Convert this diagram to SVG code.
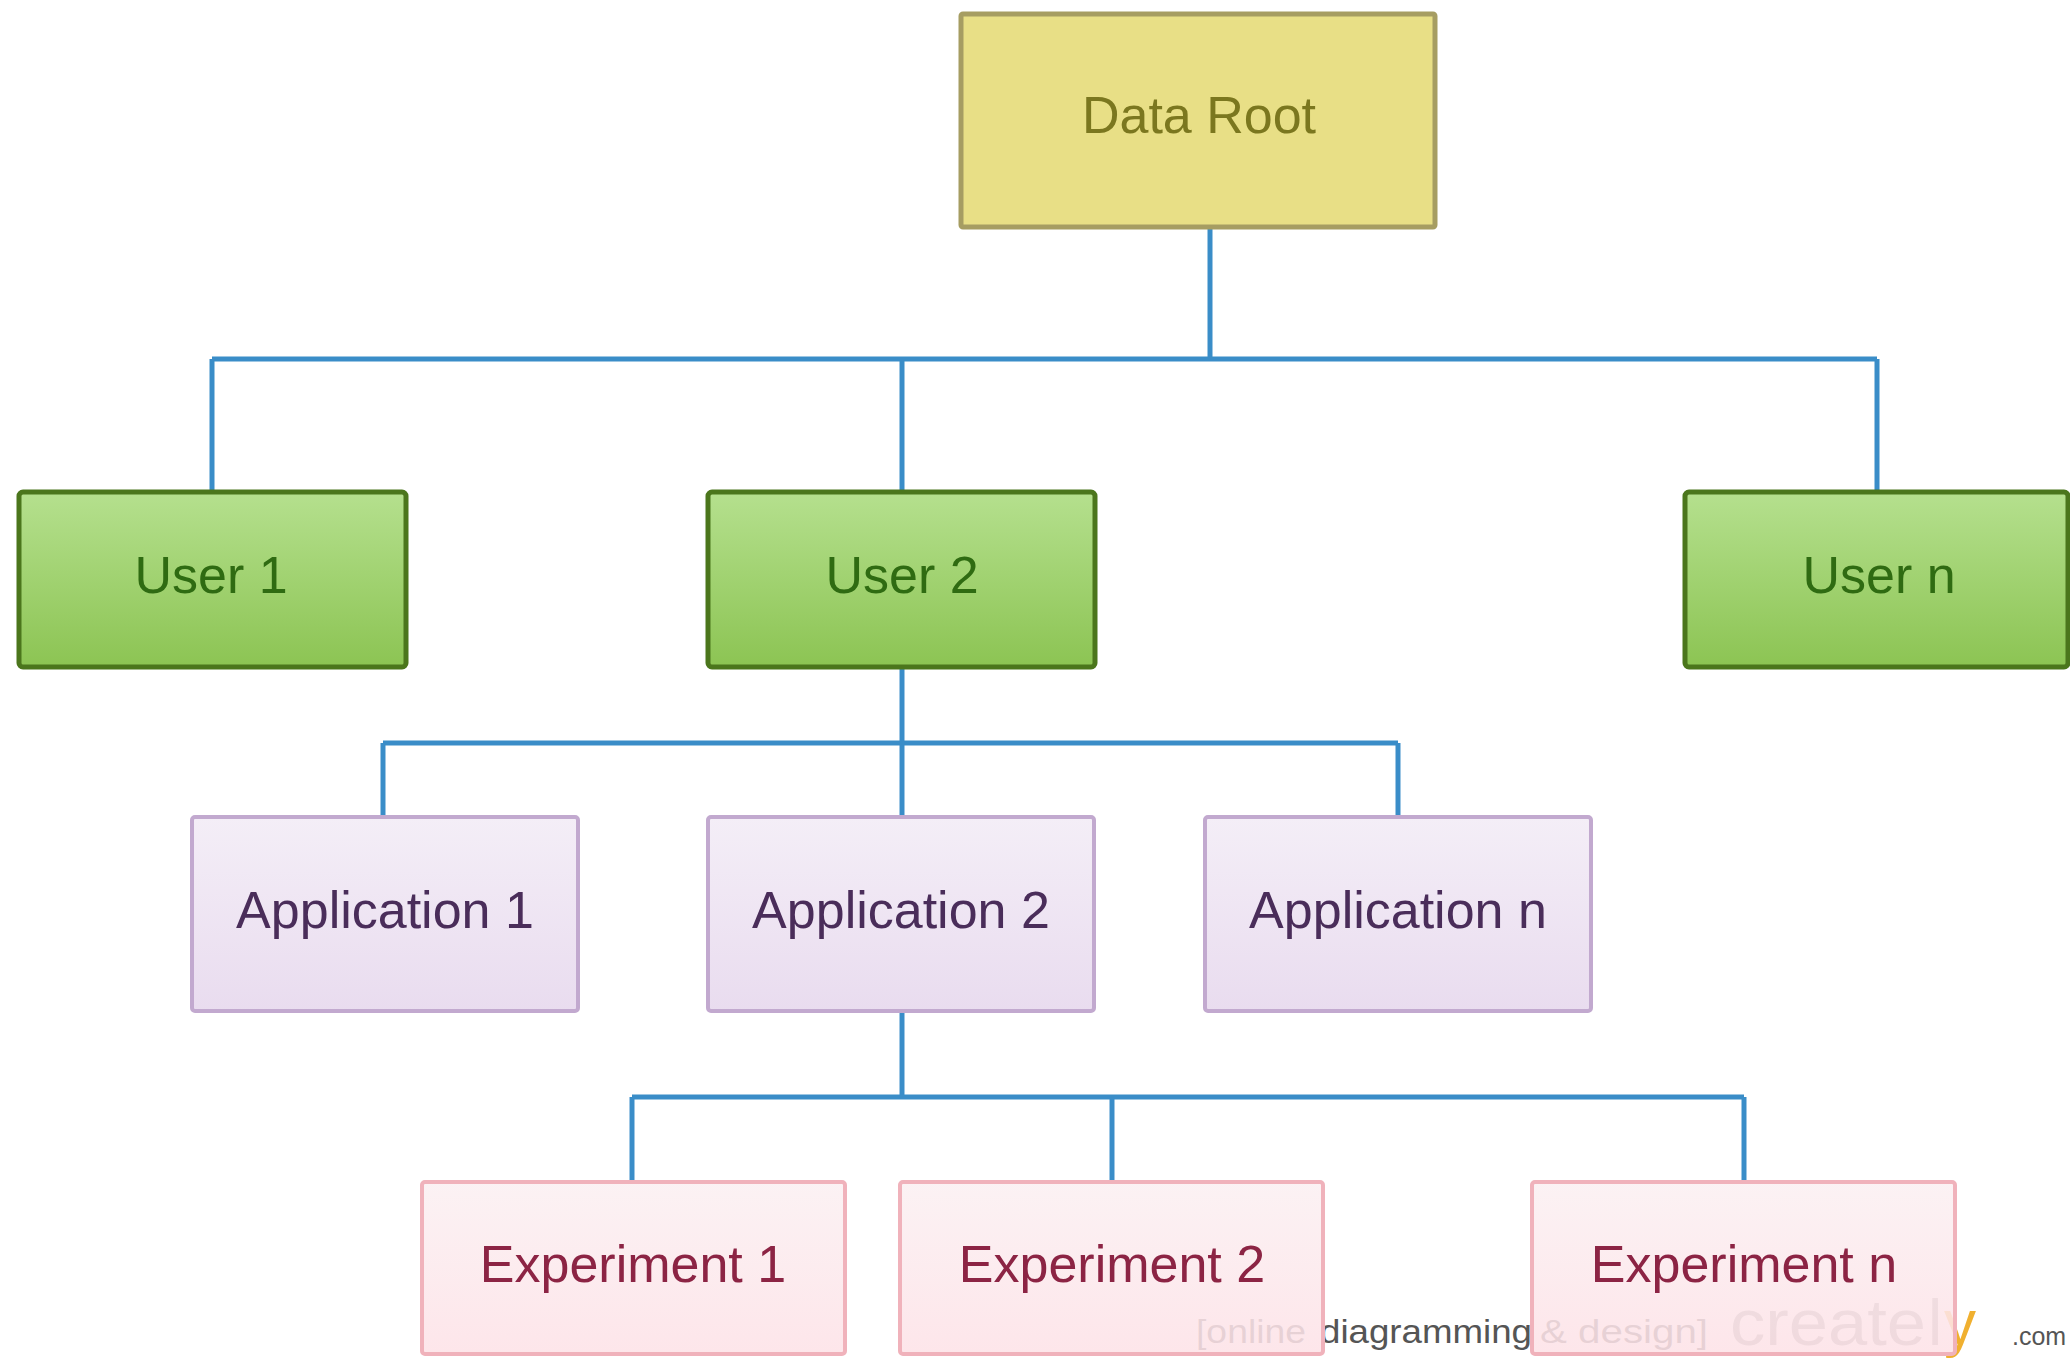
<svg xmlns="http://www.w3.org/2000/svg" width="2070" height="1359" viewBox="0 0 2070 1359">
  <defs>
    <linearGradient id="gUser" x1="0" y1="0" x2="0" y2="1">
      <stop offset="0" stop-color="#b5e08e"/>
      <stop offset="1" stop-color="#8cc453"/>
    </linearGradient>
    <linearGradient id="gApp" x1="0" y1="0" x2="0" y2="1">
      <stop offset="0" stop-color="#f4eef7"/>
      <stop offset="1" stop-color="#e9dcef"/>
    </linearGradient>
    <linearGradient id="gExp" x1="0" y1="0" x2="0" y2="1">
      <stop offset="0" stop-color="#fbf0f2"/>
      <stop offset="1" stop-color="#fde2e7"/>
    </linearGradient>
    <style>
      text { font-family: "Liberation Sans", Arial, sans-serif; text-anchor: middle; }
      .lbl { font-size: 52px; }
      .root rect { fill: #e8df86; stroke: #a69d62; stroke-width: 5; }
      .root text { fill: #7b771f; }
      .user rect { fill: url(#gUser); stroke: #4b761c; stroke-width: 5; }
      .user text { fill: #2f6b12; }
      .app rect { fill: url(#gApp); stroke: #c2a9cf; stroke-width: 4; }
      .app text { fill: #4a2d5a; }
      .exp rect { fill: url(#gExp); fill-opacity: 0.87; stroke: #f0b2bb; stroke-width: 4; }
      .exp text { fill: #8c2444; }
      #connectors path { fill: none; stroke: #3a8dc8; stroke-width: 5; }
      .wm { fill: #555555; font-size: 34px; text-anchor: start; }
      .wm-big { fill: #9a9a9a; font-size: 64px; text-anchor: start; }
    </style>
  </defs>

  <rect width="2070" height="1359" fill="#ffffff"/>

  <!-- watermark sits behind the bottom row -->
  <g id="watermark">
    <text class="wm" x="1196" y="1343" textLength="110" lengthAdjust="spacingAndGlyphs">[online</text>
    <text class="wm" x="1320" y="1343" textLength="212" lengthAdjust="spacingAndGlyphs">diagramming</text>
    <text class="wm" x="1540" y="1343" textLength="168" lengthAdjust="spacingAndGlyphs">&amp; design]</text>
    <text class="wm-big" x="1730" y="1345" textLength="196" lengthAdjust="spacingAndGlyphs">create</text>
    <text class="wm-big" x="1928" y="1345">l</text>
    <text class="wm-big" x="1944" y="1345" style="fill:#f0b030">y</text>
    <text class="wm" x="2012" y="1345" style="font-size:25px">.com</text>
  </g>

  <g id="connectors">
    <path d="M1210 227 V359"/>
    <path d="M212 359 H1877"/>
    <path d="M212 359 V492"/>
    <path d="M902 359 V492"/>
    <path d="M1877 359 V492"/>
    <path d="M902 667 V743"/>
    <path d="M383 743 H1398"/>
    <path d="M383 743 V817"/>
    <path d="M902 743 V817"/>
    <path d="M1398 743 V817"/>
    <path d="M902 1011 V1097"/>
    <path d="M632 1097 H1744"/>
    <path d="M632 1097 V1182"/>
    <path d="M1112 1097 V1182"/>
    <path d="M1744 1097 V1182"/>
  </g>

  <g id="data-root" class="root">
    <rect x="961" y="14" width="474" height="213" rx="2"/>
    <text class="lbl" x="1199" y="133">Data Root</text>
  </g>

  <g id="user-1" class="user">
    <rect x="19" y="492" width="387" height="175" rx="4"/>
    <text class="lbl" x="211" y="593">User 1</text>
  </g>
  <g id="user-2" class="user">
    <rect x="708" y="492" width="387" height="175" rx="4"/>
    <text class="lbl" x="902" y="593">User 2</text>
  </g>
  <g id="user-n" class="user">
    <rect x="1685" y="492" width="383" height="175" rx="4"/>
    <text class="lbl" x="1879" y="593">User n</text>
  </g>

  <g id="application-1" class="app">
    <rect x="192" y="817" width="386" height="194" rx="3"/>
    <text class="lbl" x="385" y="928">Application 1</text>
  </g>
  <g id="application-2" class="app">
    <rect x="708" y="817" width="386" height="194" rx="3"/>
    <text class="lbl" x="901" y="928">Application 2</text>
  </g>
  <g id="application-n" class="app">
    <rect x="1205" y="817" width="386" height="194" rx="3"/>
    <text class="lbl" x="1398" y="928">Application n</text>
  </g>

  <g id="experiment-1" class="exp">
    <rect x="422" y="1182" width="423" height="172" rx="3"/>
    <text class="lbl" x="633" y="1282">Experiment 1</text>
  </g>
  <g id="experiment-2" class="exp">
    <rect x="900" y="1182" width="423" height="172" rx="3"/>
    <text class="lbl" x="1112" y="1282">Experiment 2</text>
  </g>
  <g id="experiment-n" class="exp">
    <rect x="1532" y="1182" width="423" height="172" rx="3"/>
    <text class="lbl" x="1744" y="1282">Experiment n</text>
  </g>
</svg>
